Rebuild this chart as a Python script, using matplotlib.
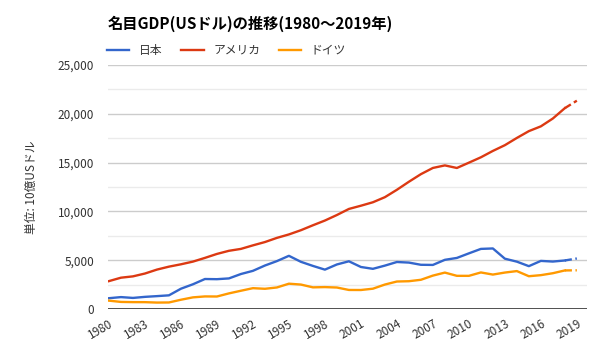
import matplotlib
matplotlib.use("Agg")
import matplotlib.pyplot as plt
from matplotlib.ticker import FuncFormatter, MultipleLocator

plt.rcParams['font.family'] = ['Noto Sans CJK JP', 'DejaVu Sans']

years = list(range(1980, 2020))
# 名目GDP (10億USドル)
japan = [1105, 1218, 1134, 1243, 1318, 1399, 2078, 2532, 3072, 3054,
         3133, 3584, 3909, 4454, 4907, 5449, 4834, 4414, 4033, 4563,
         4888, 4304, 4116, 4445, 4815, 4755, 4530, 4515, 5038, 5231,
         5700, 6157, 6203, 5155, 4850, 4389, 4927, 4860, 4971, 5176]
usa = [2857, 3207, 3343, 3634, 4037, 4339, 4580, 4855, 5236, 5642,
       5963, 6158, 6520, 6859, 7287, 7640, 8073, 8578, 9063, 9631,
       10252, 10582, 10936, 11458, 12214, 13037, 13815, 14452, 14713, 14449,
       14992, 15543, 16197, 16785, 17527, 18225, 18715, 19519, 20580, 21345]
germany = [854, 724, 703, 700, 657, 668, 948, 1191, 1287, 1279,
           1598, 1869, 2133, 2070, 2206, 2592, 2503, 2217, 2243, 2200,
           1950, 1945, 2079, 2505, 2815, 2846, 2992, 3421, 3730, 3398,
           3396, 3744, 3527, 3733, 3884, 3357, 3467, 3665, 3951, 3964]

series = [("日本", japan, "#3366cc"), ("アメリカ", usa, "#dc3912"), ("ドイツ", germany, "#ff9900")]
xticks = list(range(1980, 2020, 3))

fig = plt.figure(figsize=(6, 3.6), dpi=100)
ax = fig.add_axes([0.18, 0.1417, 0.798, 0.6777])

for name, vals, color in series:
    ax.plot(years[:-1], vals[:-1], color=color, lw=1.7, label=name)
    # 2019年は推計値 → 破線
    ax.plot(years[-2:], vals[-2:], color=color, lw=1.7, ls=(0, (3, 1.5)))

ax.set_xlim(1979.92, 2019.83)
ax.set_ylim(0, 25000)
ax.yaxis.set_major_locator(MultipleLocator(5000))
ax.yaxis.set_minor_locator(MultipleLocator(2500))
ax.yaxis.set_major_formatter(FuncFormatter(lambda v, p: f"{int(v):,}"))
ax.grid(axis='y', which='major', color='#cccccc', lw=1)
ax.grid(axis='y', which='minor', color='#ebebeb', lw=1)
ax.set_axisbelow(True)
ax.axhline(0, color='#333333', lw=1.2)

ax.set_xticks(xticks)
ax.set_xticklabels([str(y) for y in xticks], rotation=30, ha='right', rotation_mode='anchor')
for s in ax.spines.values():
    s.set_visible(False)
ax.tick_params(axis='both', which='both', length=0, labelsize=8.5, colors='#333333')
ax.tick_params(axis='y', pad=10)
ax.tick_params(axis='x', pad=6)

ax.set_ylabel("単位: 10億USドル", fontsize=8.5, color='#333333', labelpad=14)

fig.text(0.18, 0.935, "名目GDP(USドル)の推移(1980〜2019年)", fontsize=11,
         fontweight='bold', color='#000000', va='center')
leg = ax.legend(loc='lower left', bbox_to_anchor=(-0.012, 1.015), ncol=3, frameon=False,
                fontsize=8.5, handlelength=1.9, handletextpad=0.8, columnspacing=1.6,
                borderaxespad=0)
for t in leg.get_texts():
    t.set_color('#333333')

fig.savefig("out.png", dpi=100)
